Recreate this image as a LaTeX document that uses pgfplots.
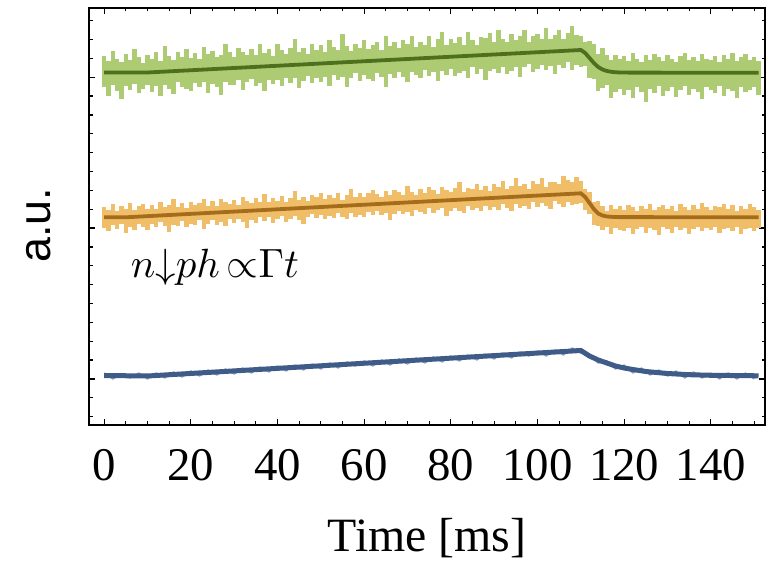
\documentclass[border=0pt]{standalone}
\usepackage{fontspec}
\setmainfont{Liberation Serif}
\newfontfamily\ausans{Liberation Sans}
\usepackage{pgfplots}
\pgfplotsset{compat=1.18}
\definecolor{gband}{RGB}{172,203,115}
\definecolor{gline}{RGB}{78,112,30}
\definecolor{oband}{RGB}{240,190,104}
\definecolor{oline}{RGB}{165,108,28}
\definecolor{bband}{RGB}{135,157,195}
\definecolor{bline}{RGB}{63,91,135}
\begin{document}
\begin{tikzpicture}
\useasboundingbox (0,0) rectangle (770bp,563bp);
\begin{axis}[
  at={(89bp,138bp)}, anchor=south west,
  scale only axis, width=676bp, height=417bp,
  xmin=-3.5, xmax=152.5, ymin=0, ymax=417,
  axis line style={line width=2bp, black},
  every tick/.style={black, line width=1.2bp},
  major tick length=6bp, minor tick length=3.5bp,
  xtick={0,20,...,140},
  minor xtick={5,10,...,150},
  ytick={347.7,196.9,46.0},
  minor ytick={404.3,385.4,366.6,328.9,310.0,291.2,272.3,253.4,234.6,215.7,178.0,159.2,140.3,121.4,102.6,83.7,64.9,27.2,8.3},
  yticklabels={},
  /pgf/number format/assume math mode=true,
  xticklabel style={font=\fontsize{47}{47}\selectfont, anchor=base, yshift=-55bp},
  xlabel={Time [ms]},
  xlabel style={at={(axis description cs:0.5,0)}, anchor=base, yshift=-126bp, font=\fontsize{48}{48}\selectfont},
  ylabel={a.u.},
  ylabel style={at={(axis description cs:-0.0577,0.4796)}, anchor=base, font=\ausans\fontsize{45}{45}\selectfont},
  clip=true,
]
% green raw data: centre, upper and lower spread of the noise band
\addplot[draw=none, mark=none, error bars/.cd, y dir=both, y explicit, error mark=none,
  error bar style={draw=gband, line width=4.4bp}] coordinates {
(0,352) += (0,17) -= (0,14) (1,352) += (0,12) -= (0,23) (2,352) += (0,22) -= (0,12) (3,352) += (0,14) -= (0,18)
(4,352) += (0,11) -= (0,26) (5,352) += (0,19) -= (0,13) (6,352) += (0,13) -= (0,17) (7,352) += (0,24) -= (0,11)
(8,352) += (0,16) -= (0,20) (9,352) += (0,10) -= (0,16) (10,352) += (0,18) -= (0,12) (11,352) += (0,14) -= (0,19)
(12,353) += (0,20) -= (0,14) (13,353) += (0,11) -= (0,24) (14,353) += (0,26) -= (0,13) (15,353) += (0,16) -= (0,17)
(16,353) += (0,12) -= (0,22) (17,354) += (0,19) -= (0,11) (18,354) += (0,14) -= (0,16) (19,354) += (0,22) -= (0,18)
(20,354) += (0,13) -= (0,20) (21,355) += (0,17) -= (0,13) (22,355) += (0,11) -= (0,17) (23,355) += (0,23) -= (0,12)
(24,355) += (0,16) -= (0,23) (25,355) += (0,19) -= (0,14) (26,356) += (0,12) -= (0,18) (27,356) += (0,14) -= (0,26)
(28,356) += (0,25) -= (0,13) (29,356) += (0,17) -= (0,16) (30,357) += (0,11) -= (0,17) (31,357) += (0,20) -= (0,12)
(32,357) += (0,16) -= (0,22) (33,357) += (0,13) -= (0,14) (34,357) += (0,19) -= (0,11) (35,358) += (0,12) -= (0,19)
(36,358) += (0,23) -= (0,16) (37,358) += (0,14) -= (0,24) (38,358) += (0,18) -= (0,13) (39,359) += (0,10) -= (0,18)
(40,359) += (0,22) -= (0,14) (41,359) += (0,16) -= (0,20) (42,359) += (0,12) -= (0,12) (43,359) += (0,18) -= (0,17)
(44,360) += (0,26) -= (0,13) (45,360) += (0,13) -= (0,23) (46,360) += (0,17) -= (0,16) (47,360) += (0,11) -= (0,11)
(48,361) += (0,20) -= (0,19) (49,361) += (0,14) -= (0,14) (50,361) += (0,19) -= (0,18) (51,361) += (0,12) -= (0,13)
(52,361) += (0,24) -= (0,22) (53,362) += (0,16) -= (0,12) (54,362) += (0,13) -= (0,17) (55,362) += (0,29) -= (0,14)
(56,362) += (0,17) -= (0,24) (57,363) += (0,11) -= (0,16) (58,363) += (0,18) -= (0,11) (59,363) += (0,14) -= (0,19)
(60,363) += (0,22) -= (0,13) (61,363) += (0,13) -= (0,17) (62,364) += (0,16) -= (0,20) (63,364) += (0,19) -= (0,12)
(64,364) += (0,11) -= (0,16) (65,364) += (0,25) -= (0,26) (66,365) += (0,14) -= (0,14) (67,365) += (0,18) -= (0,18)
(68,365) += (0,12) -= (0,12) (69,365) += (0,20) -= (0,17) (70,365) += (0,16) -= (0,22) (71,366) += (0,23) -= (0,13)
(72,366) += (0,12) -= (0,16) (73,366) += (0,17) -= (0,19) (74,366) += (0,14) -= (0,11) (75,367) += (0,22) -= (0,18)
(76,367) += (0,11) -= (0,14) (77,367) += (0,19) -= (0,23) (78,367) += (0,26) -= (0,13) (79,367) += (0,13) -= (0,17)
(80,368) += (0,18) -= (0,12) (81,368) += (0,14) -= (0,19) (82,368) += (0,20) -= (0,16) (83,368) += (0,12) -= (0,14)
(84,369) += (0,24) -= (0,22) (85,369) += (0,16) -= (0,11) (86,369) += (0,11) -= (0,18) (87,369) += (0,19) -= (0,13)
(88,370) += (0,17) -= (0,25) (89,370) += (0,22) -= (0,16) (90,370) += (0,13) -= (0,14) (91,370) += (0,25) -= (0,18)
(92,370) += (0,16) -= (0,12) (93,371) += (0,12) -= (0,20) (94,371) += (0,20) -= (0,17) (95,371) += (0,14) -= (0,13)
(96,371) += (0,18) -= (0,23) (97,372) += (0,23) -= (0,14) (98,372) += (0,11) -= (0,11) (99,372) += (0,17) -= (0,19)
(100,372) += (0,19) -= (0,16) (101,372) += (0,14) -= (0,12) (102,373) += (0,24) -= (0,18) (103,373) += (0,13) -= (0,14)
(104,373) += (0,17) -= (0,22) (105,373) += (0,22) -= (0,13) (106,374) += (0,12) -= (0,17) (107,374) += (0,18) -= (0,11)
(108,374) += (0,25) -= (0,19) (109,374) += (0,16) -= (0,14) (110,375) += (0,14) -= (0,17) (111,372) += (0,11) -= (0,13)
(112,367) += (0,17) -= (0,20) (113,362) += (0,19) -= (0,16) (114,358) += (0,13) -= (0,24) (115,355) += (0,22) -= (0,18)
(116,354) += (0,16) -= (0,14) (117,353) += (0,12) -= (0,26) (118,352) += (0,18) -= (0,19) (119,352) += (0,14) -= (0,16)
(120,352) += (0,17) -= (0,22) (121,352) += (0,12) -= (0,17) (122,352) += (0,20) -= (0,25) (123,352) += (0,14) -= (0,14)
(124,352) += (0,11) -= (0,19) (125,352) += (0,18) -= (0,29) (126,352) += (0,13) -= (0,16) (127,352) += (0,19) -= (0,20)
(128,352) += (0,16) -= (0,13) (129,352) += (0,12) -= (0,23) (130,352) += (0,18) -= (0,18) (131,352) += (0,14) -= (0,14)
(132,352) += (0,11) -= (0,24) (133,352) += (0,17) -= (0,17) (134,352) += (0,20) -= (0,13) (135,352) += (0,13) -= (0,22)
(136,352) += (0,16) -= (0,16) (137,352) += (0,12) -= (0,19) (138,352) += (0,19) -= (0,26) (139,352) += (0,14) -= (0,14)
(140,352) += (0,13) -= (0,17) (141,352) += (0,17) -= (0,20) (142,352) += (0,11) -= (0,13) (143,352) += (0,18) -= (0,23)
(144,352) += (0,14) -= (0,16) (145,352) += (0,20) -= (0,18) (146,352) += (0,12) -= (0,25) (147,352) += (0,16) -= (0,14)
(148,352) += (0,19) -= (0,19) (149,352) += (0,13) -= (0,17) (150,352) += (0,16) -= (0,14) (151,352) += (0,12) -= (0,22)
};
% green fit
\addplot[color=gline, line width=3.8bp] coordinates {
(0,352.5)(10,352.5)(110,375)(111,372)(112,367)(113,362)(114,358)(115,355.5)(116,354)(117,353.2)(118,352.7)(120,352.4)(151,352.2)
};
% orange raw data: centre, upper and lower spread of the noise band
\addplot[draw=none, mark=none, error bars/.cd, y dir=both, y explicit, error mark=none,
  error bar style={draw=oband, line width=4.4bp}] coordinates {
(0,208) += (0,10) -= (0,11) (1,208) += (0,7) -= (0,14) (2,208) += (0,13) -= (0,8) (3,208) += (0,6) -= (0,12)
(4,208) += (0,11) -= (0,7) (5,208) += (0,8) -= (0,16) (6,208) += (0,14) -= (0,10) (7,208) += (0,7) -= (0,13)
(8,209) += (0,10) -= (0,8) (9,209) += (0,12) -= (0,11) (10,209) += (0,7) -= (0,14) (11,209) += (0,11) -= (0,8)
(12,210) += (0,6) -= (0,12) (13,210) += (0,13) -= (0,7) (14,210) += (0,8) -= (0,11) (15,210) += (0,10) -= (0,17)
(16,210) += (0,16) -= (0,10) (17,211) += (0,7) -= (0,12) (18,211) += (0,11) -= (0,7) (19,211) += (0,6) -= (0,13)
(20,211) += (0,12) -= (0,10) (21,212) += (0,8) -= (0,12) (22,212) += (0,10) -= (0,7) (23,212) += (0,14) -= (0,16)
(24,212) += (0,7) -= (0,11) (25,213) += (0,11) -= (0,8) (26,213) += (0,6) -= (0,13) (27,213) += (0,13) -= (0,10)
(28,213) += (0,10) -= (0,14) (29,213) += (0,8) -= (0,7) (30,214) += (0,11) -= (0,12) (31,214) += (0,6) -= (0,8)
(32,214) += (0,14) -= (0,11) (33,214) += (0,10) -= (0,17) (34,215) += (0,7) -= (0,10) (35,215) += (0,12) -= (0,13)
(36,215) += (0,8) -= (0,7) (37,215) += (0,16) -= (0,11) (38,216) += (0,7) -= (0,8) (39,216) += (0,11) -= (0,14)
(40,216) += (0,8) -= (0,10) (41,216) += (0,13) -= (0,7) (42,216) += (0,7) -= (0,13) (43,217) += (0,10) -= (0,11)
(44,217) += (0,17) -= (0,8) (45,217) += (0,8) -= (0,12) (46,217) += (0,11) -= (0,16) (47,218) += (0,6) -= (0,10)
(48,218) += (0,12) -= (0,7) (49,218) += (0,10) -= (0,11) (50,218) += (0,14) -= (0,8) (51,219) += (0,7) -= (0,13)
(52,219) += (0,11) -= (0,10) (53,219) += (0,8) -= (0,12) (54,219) += (0,13) -= (0,7) (55,219) += (0,6) -= (0,11)
(56,220) += (0,10) -= (0,14) (57,220) += (0,16) -= (0,8) (58,220) += (0,8) -= (0,12) (59,220) += (0,12) -= (0,10)
(60,221) += (0,7) -= (0,13) (61,221) += (0,11) -= (0,8) (62,221) += (0,14) -= (0,11) (63,221) += (0,10) -= (0,7)
(64,222) += (0,6) -= (0,12) (65,222) += (0,12) -= (0,10) (66,222) += (0,8) -= (0,17) (67,222) += (0,13) -= (0,11)
(68,222) += (0,11) -= (0,8) (69,223) += (0,7) -= (0,12) (70,223) += (0,16) -= (0,10) (71,223) += (0,10) -= (0,14)
(72,223) += (0,7) -= (0,8) (73,224) += (0,12) -= (0,11) (74,224) += (0,8) -= (0,13) (75,224) += (0,14) -= (0,7)
(76,224) += (0,11) -= (0,12) (77,225) += (0,6) -= (0,10) (78,225) += (0,13) -= (0,8) (79,225) += (0,10) -= (0,16)
(80,225) += (0,8) -= (0,11) (81,225) += (0,12) -= (0,8) (82,226) += (0,17) -= (0,12) (83,226) += (0,7) -= (0,14)
(84,226) += (0,11) -= (0,7) (85,226) += (0,10) -= (0,11) (86,227) += (0,14) -= (0,10) (87,227) += (0,8) -= (0,13)
(88,227) += (0,12) -= (0,8) (89,227) += (0,7) -= (0,12) (90,228) += (0,13) -= (0,10) (91,228) += (0,10) -= (0,13)
(92,228) += (0,16) -= (0,7) (93,228) += (0,8) -= (0,11) (94,228) += (0,11) -= (0,14) (95,229) += (0,18) -= (0,8)
(96,229) += (0,10) -= (0,12) (97,229) += (0,12) -= (0,10) (98,229) += (0,7) -= (0,13) (99,230) += (0,14) -= (0,7)
(100,230) += (0,11) -= (0,12) (101,230) += (0,17) -= (0,8) (102,230) += (0,8) -= (0,11) (103,230) += (0,13) -= (0,14)
(104,231) += (0,12) -= (0,7) (105,231) += (0,10) -= (0,10) (106,231) += (0,18) -= (0,13) (107,231) += (0,14) -= (0,8)
(108,232) += (0,11) -= (0,12) (109,232) += (0,16) -= (0,11) (110,232) += (0,12) -= (0,10) (111,228) += (0,8) -= (0,13)
(112,222) += (0,11) -= (0,11) (113,216) += (0,7) -= (0,16) (114,211) += (0,13) -= (0,12) (115,209) += (0,10) -= (0,14)
(116,208) += (0,6) -= (0,10) (117,208) += (0,12) -= (0,17) (118,208) += (0,8) -= (0,11) (119,208) += (0,11) -= (0,13)
(120,208) += (0,7) -= (0,14) (121,208) += (0,12) -= (0,11) (122,208) += (0,10) -= (0,17) (123,208) += (0,6) -= (0,12)
(124,208) += (0,11) -= (0,10) (125,208) += (0,8) -= (0,16) (126,208) += (0,13) -= (0,11) (127,208) += (0,7) -= (0,13)
(128,208) += (0,10) -= (0,18) (129,208) += (0,12) -= (0,10) (130,208) += (0,8) -= (0,12) (131,208) += (0,11) -= (0,16)
(132,208) += (0,6) -= (0,10) (133,208) += (0,13) -= (0,13) (134,208) += (0,10) -= (0,11) (135,208) += (0,7) -= (0,17)
(136,208) += (0,12) -= (0,12) (137,208) += (0,8) -= (0,10) (138,208) += (0,14) -= (0,14) (139,208) += (0,10) -= (0,11)
(140,208) += (0,7) -= (0,13) (141,208) += (0,11) -= (0,10) (142,208) += (0,10) -= (0,16) (143,208) += (0,13) -= (0,12)
(144,208) += (0,8) -= (0,11) (145,208) += (0,12) -= (0,14) (146,208) += (0,6) -= (0,10) (147,208) += (0,11) -= (0,17)
(148,208) += (0,8) -= (0,12) (149,208) += (0,13) -= (0,11) (150,208) += (0,10) -= (0,14) (151,208) += (0,7) -= (0,11)
};
% orange fit
\addplot[color=oline, line width=3.8bp] coordinates {
(0,207.7)(5,207.7)(110,231.7)(111,228)(112,222)(113,216)(114,211.5)(115,209.5)(116,208.5)(118,207.9)(151,207.7)
};
% blue raw data
\addplot[color=bband, line width=1.4bp, line join=bevel] coordinates {
(0,52)(2,46)(4,51)(6,47)(8,52)(10,46)(12,52)(14,47)(16,53)(18,48)(20,54)(22,49)(24,55)(26,50)(28,56)(30,51)(32,57)(34,52)(36,58)(38,53)(40,59)(42,54)(44,60)(46,55)(48,61)(50,56)(52,62)(54,57)(56,63)(58,59)(60,64)(62,59)(64,65)(66,60)(68,66)(70,61)(72,67)(74,62)(76,68)(78,63)(80,69)(82,64)(84,70)(86,65)(88,71)(90,66)(92,72)(94,67)(96,73)(98,69)(100,74)(102,69)(104,75)(106,70)(108,77)(110,72)(112,71)(114,62)(116,64)(118,56)(120,60)(122,52)(124,57)(126,50)(128,55)(130,49)(132,54)(134,47)(136,53)(138,47)(140,52)(142,46)(144,52)(146,46)(148,52)(150,46)
};
% blue fit
\addplot[color=bline, line width=5bp] coordinates {
(0,49.5)(10,49)(110,74.5)(112,69)(114,65)(116,62)(118,59)(120,57)(122,55.5)(125,53.5)(130,51.5)(135,50.3)(140,49.7)(151,49.2)
};
\node[anchor=base west, inner sep=0pt, scale=4.1] at (axis cs:6,147) {$n{\downarrow}ph\,{\propto}\Gamma t$};
\end{axis}
\end{tikzpicture}
\end{document}
